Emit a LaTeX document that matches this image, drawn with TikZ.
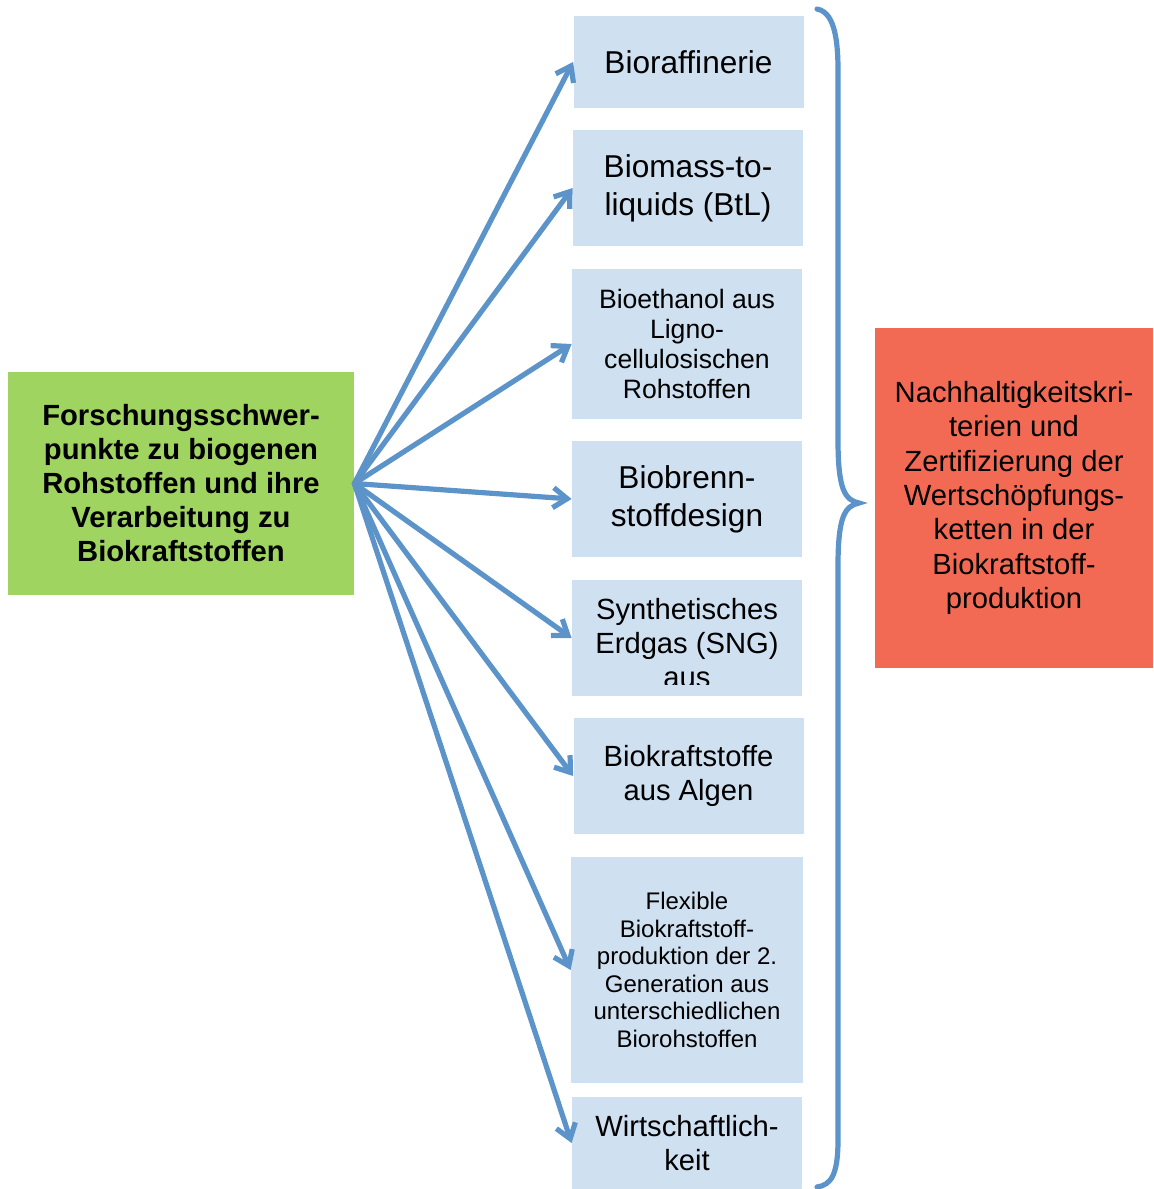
\documentclass[tikz,border=0pt]{standalone}
\usepackage{fontspec}
\setmainfont{Liberation Sans}
\usepackage{tikz}
\usetikzlibrary{arrows.meta}

\definecolor{zielblau}{RGB}{207,224,241}
\definecolor{startgruen}{RGB}{160,212,96}
\definecolor{kritrot}{RGB}{243,106,84}
\definecolor{pfeilblau}{RGB}{92,148,202}

\begin{document}
\begin{tikzpicture}[x=0.5pt,y=-0.5pt]
				\tikzstyle{Box} 	= [draw=none, align=center, inner sep=0pt]
				\tikzstyle{Ziel}	= [Box, fill=zielblau, minimum width=115pt]
				\tikzstyle{Gross}	= [font=\fontsize{15.8}{19}\selectfont]
				\tikzstyle{Mittel}	= [font=\fontsize{14.6}{17}\selectfont]
				\tikzstyle{Klein}	= [font=\fontsize{13.3}{15}\selectfont]
				\tikzstyle{Pfeil}	= [draw=pfeilblau, line width=2.6pt, line cap=round, line join=round, -{Straight Barb[length=7pt,width=10pt]}]

				\useasboundingbox (0,0) rectangle (1153,1189);

				% Ausgangspunkt und Ziel
				\node (start) at (181,483.5) [Box, fill=startgruen, minimum width=173pt, minimum height=111.5pt, font=\bfseries\fontsize{14.6}{17}\selectfont] {Forschungsschwer-\\punkte zu biogenen\\Rohstoffen und ihre\\Verarbeitung zu\\Biokraftstoffen};
				\node (krit) at (1014,498) [Box, fill=kritrot, minimum width=139pt, minimum height=170pt, font=\fontsize{14.6}{17.2}\selectfont] {Nachhaltigkeitskri-\\terien und\\Zertifizierung der\\Wertsch\"opfungs-\\ketten in der\\Biokraftstoff-\\produktion};

				% Schwerpunkte
				\node (bioraff) at (688.5,62) [Ziel, minimum height=46pt][Gross] {Bioraffinerie};
				\node (btl) at (688,188) [Ziel, minimum height=58pt][Gross] {Biomass-to-\\liquids (BtL)};
				\node (ethanol) at (687,344) [Ziel, minimum height=75pt][Klein] {Bioethanol aus\\Ligno-\\cellulosischen\\Rohstoffen};
				\node (design) at (687,499) [Ziel, minimum height=58pt][Gross] {Biobrenn-\\stoffdesign};
				\node (sng) at (687,638) [Ziel, minimum height=58pt] {};
				\node (algen) at (688.5,776) [Ziel, minimum height=58pt][Mittel] {Biokraftstoffe\\aus Algen};
				\node (flex) at (687,970) [Ziel, minimum width=116pt, minimum height=113pt, font=\fontsize{12}{13.75}\selectfont] {Flexible\\Biokraftstoff-\\produktion der 2.\\Generation aus\\unterschiedlichen\\Biorohstoffen};
				\node (wirt) at (687,1143) [Ziel, minimum height=46pt][Mittel] {Wirtschaftlich-\\keit};

				% SNG-Text ragt unten aus dem Feld
				\begin{scope}
					\clip (sng.north west) rectangle ([yshift=6pt]sng.south east);
					\node (sngtext) at ([yshift=-2.5pt]sng.center) [Box][Mittel] {Synthetisches\\Erdgas (SNG)\\aus};
				\end{scope}

				\foreach \ziel in {bioraff,btl,ethanol,design,sng,algen,flex,wirt}
					\draw [Pfeil] (start.east) -- (\ziel.west);

				% geschweifte Klammer
				\draw [pfeilblau, line width=2.6pt, line cap=round] (817,9) .. controls (833,12) and (838,35) .. (838,70)
					-- (838,440) .. controls (838,490) and (845,500) .. (859,503)
					.. controls (845,506) and (838,516) .. (838,566)
					-- (838,1140) .. controls (838,1175) and (831,1185) .. (817,1187);
\end{tikzpicture}
\end{document}
